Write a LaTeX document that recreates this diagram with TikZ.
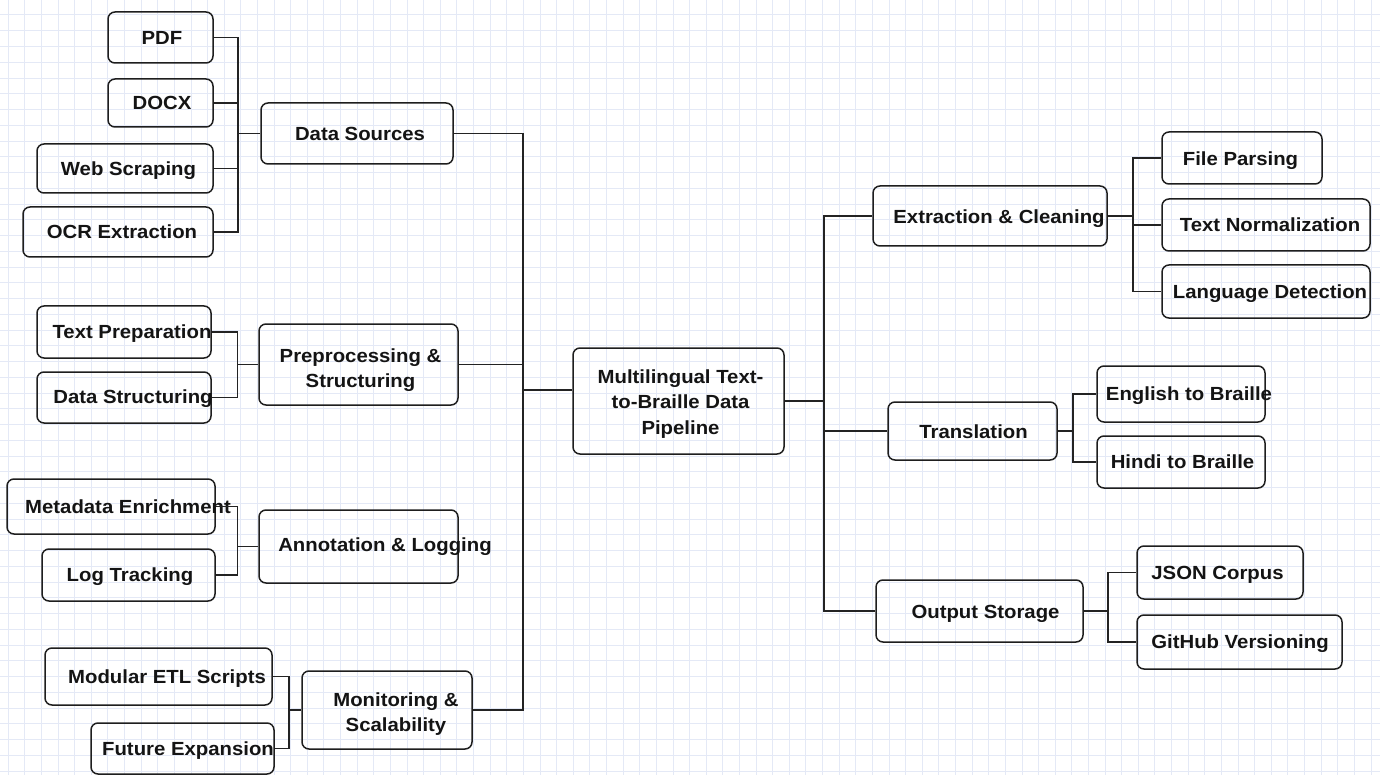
\documentclass[tikz,border=0pt]{standalone}
\usepackage{fontspec}
\setmainfont{Liberation Sans}[FakeStretch=1.07]
\begin{document}
\begin{tikzpicture}[x=1pt,y=-1pt,
  gridline/.style={draw={rgb,255:red,228;green,233;blue,246},line width=1pt},
  box/.style={draw={rgb,255:red,30;green,30;blue,30},line width=1.5pt,rounded corners=7pt,inner sep=0pt,rectangle},
  txt/.style={font=\fontsize{19}{25.5}\selectfont\bfseries,inner sep=0pt,text height=13.6pt,text depth=0pt,text={rgb,255:red,20;green,20;blue,20}},
  mtxt/.style={font=\fontsize{19}{25.5}\selectfont\bfseries,inner sep=0pt,align=center,text={rgb,255:red,20;green,20;blue,20}},
  conn/.style={draw={rgb,255:red,35;green,35;blue,35},line width=1.3pt}]
\useasboundingbox (0,0) rectangle (1380,775);
\fill[white] (0,0) rectangle (1380,775);
\foreach \i in {0,...,82} \draw[gridline] ({8.2+16.62*\i},0) -- ++(0,775);
\foreach \j in {0,...,48} \draw[gridline] (0,{15+15.755*\j}) -- ++(1380,0);
\newcommand{\bx}[5]{\node[box,minimum width={#4-#2},minimum height={#5-#3}] (#1) at ({(#2+#4)/2},{(#3+#5)/2}) {};}
% boxes
\bx{pdf}{108}{12}{213}{63}
\bx{docx}{108}{79}{213}{127}
\bx{web}{37}{144}{213}{193}
\bx{ocr}{23}{207}{213}{257}
\bx{ds}{261}{103}{453}{164}
\bx{tp}{37}{306}{211}{358}
\bx{dst}{37}{372}{211}{423}
\bx{pp}{259}{324}{458}{405}
\bx{md}{7}{479}{215}{534}
\bx{lt}{42}{549}{215}{601}
\bx{an}{259}{510}{458}{583}
\bx{mod}{45}{648}{272}{705}
\bx{fut}{91}{723}{274}{774}
\bx{mon}{302}{671}{472}{749}
\bx{main}{573}{348}{784}{454}
\bx{ex}{873}{186}{1107}{246}
\bx{fp}{1162}{132}{1322}{184}
\bx{tn}{1162}{199}{1370}{251}
\bx{ld}{1162}{265}{1370}{318}
\bx{tr}{888}{402}{1057}{460}
\bx{en}{1097}{366}{1265}{422}
\bx{hi}{1097}{436}{1265}{488}
\bx{os}{876}{580}{1083}{642}
\bx{js}{1137}{546}{1303}{599}
\bx{gh}{1137}{615}{1342}{669}
% texts
\node[txt] (pdf-t) at (162,37.5) {PDF};
\node[txt] (docx-t) at (162,103) {DOCX};
\node[txt] (web-t) at (128.5,168.5) {Web Scraping};
\node[txt] (ocr-t) at (122,232) {OCR Extraction};
\node[txt] (ds-t) at (360,133.5) {Data Sources};
\node[txt] (tp-t) at (132,332) {Text Preparation};
\node[txt] (dst-t) at (133,397) {Data Structuring};
\node[mtxt] (pp-t) at (360.5,370) {Preprocessing \&\\Structuring};
\node[txt] (md-t) at (128,506.5) {Metadata Enrichment};
\node[txt] (lt-t) at (130,575) {Log Tracking};
\node[txt] (an-t) at (385,545) {Annotation \& Logging};
\node[txt] (mod-t) at (167,676.5) {Modular ETL Scripts};
\node[txt] (fut-t) at (188,748.5) {Future Expansion};
\node[mtxt] (mon-t) at (396,714) {Monitoring \&\\Scalability};
\node[mtxt] (main-t) at (680.5,404) {Multilingual Text-\\to-Braille Data\\Pipeline};
\node[txt] (ex-t) at (999,216.5) {Extraction \& Cleaning};
\node[txt] (fp-t) at (1240.5,158.5) {File Parsing};
\node[txt] (tn-t) at (1270,225) {Text Normalization};
\node[txt] (ld-t) at (1270,291.5) {Language Detection};
\node[txt] (tr-t) at (973.5,431.5) {Translation};
\node[txt] (en-t) at (1189,393.5) {English to Braille};
\node[txt] (hi-t) at (1182.5,462) {Hindi to Braille};
\node[txt] (os-t) at (985.5,611.5) {Output Storage};
\node[txt] (js-t) at (1217.5,572.5) {JSON Corpus};
\node[txt] (gh-t) at (1240,642) {GitHub Versioning};
% junctions
\coordinate (dsj) at (238,133.5);
\coordinate (ppj) at (237.5,364.5);
\coordinate (anj) at (237.5,546.5);
\coordinate (monj) at (289,710);
\coordinate (lj) at (523,390);
\coordinate (rj) at (824,401);
\coordinate (exj) at (1133,216);
\coordinate (trj) at (1073,431);
\coordinate (osj) at (1108,611);
% left connectors
\foreach \c in {pdf,docx,web,ocr} \draw[conn] (\c.east) -| (dsj) -- (ds.west);
\foreach \c in {tp,dst} \draw[conn] (\c.east) -| (ppj) -- (pp.west);
\foreach \c in {md,lt} \draw[conn] (\c.east) -| (anj) -- (an.west);
\foreach \c in {mod,fut} \draw[conn] (\c.east) -| (monj) -- (mon.west);
\foreach \c in {ds,pp,mon} \draw[conn] (\c.east) -| (lj);
\draw[conn] (lj) -- ([yshift=11pt]main.west);
% right connectors
\draw[conn] (main.east) -- (rj);
\foreach \c in {ex,tr,os} \draw[conn] (rj) |- (\c.west);
\draw[conn] (ex.east) -- (exj);
\foreach \c in {fp,tn,ld} \draw[conn] (exj) |- (\c.west);
\draw[conn] (tr.east) -- (trj);
\foreach \c in {en,hi} \draw[conn] (trj) |- (\c.west);
\draw[conn] (os.east) -- (osj);
\foreach \c in {js,gh} \draw[conn] (osj) |- (\c.west);
\end{tikzpicture}
\end{document}
